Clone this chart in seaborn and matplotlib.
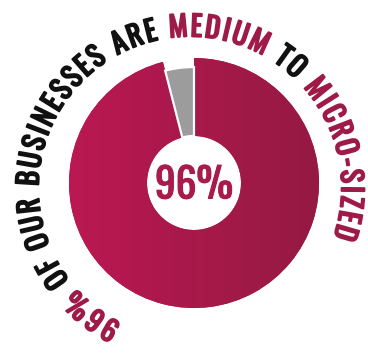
import numpy as np
import matplotlib
matplotlib.use("Agg")
import matplotlib.pyplot as plt
import matplotlib.patheffects as pe
from matplotlib import font_manager
from matplotlib.font_manager import FontProperties
from matplotlib.textpath import TextPath
import seaborn as sns

# ---- data ----
share_values = [96, 4]
share_labels = ["Medium to micro-sized", "Other"]
center_label = "96%"
phrase_words = ["96%", "OF", "OUR", "BUSINESSES", "ARE", "MEDIUM", "TO", "MICRO-SIZED"]
phrase_highlight = [True, False, False, False, False, True, False, True]

# ---- style ----
sns.set_theme(style="white")
names = {f.name for f in font_manager.fontManager.ttflist}
FONT = None
for fam, wt in [("Oswald", "bold"), ("Fjalla One", "normal"), ("Bebas Neue", "normal"),
                ("Anton", "normal"), ("Roboto Condensed", "bold"),
                ("Barlow Condensed", "bold"), ("Liberation Sans Narrow", "bold")]:
    if fam in names:
        FONT = dict(family=fam, weight=wt)
        break
if FONT is None:
    FONT = dict(family="DejaVu Sans", weight="bold", stretch="condensed")
FP = FontProperties(**FONT)

CRIMSON_L = "#BB1851"
CRIMSON_R = "#941A43"
TEXT_RED = "#9E1A47"
GRAY = "#9C9C9C"

W, H = 368, 353
fig = plt.figure(figsize=(W / 100, H / 100), dpi=100)
ax = fig.add_axes([0, 0, 1, 1])

# pie geometry (pixel-like data coordinates, y up)
cx, cy, R = 194.0, H - 183.0, 125.0
r_hole = 47.0

wedges, _ = ax.pie(share_values, labels=None, startangle=90, counterclock=False,
                   center=(cx, cy), radius=R,
                   colors=[CRIMSON_L, GRAY],
                   wedgeprops=dict(width=R - r_hole, linewidth=0))
main, other = wedges
other.set_radius(116.0)
other.set_width(116.0 - r_hole)
other.set_edgecolor("white")
other.set_linewidth(1.6)
other.set_zorder(3)

# horizontal gradient on main slice
grad = sns.blend_palette([CRIMSON_L, CRIMSON_R], 256)
img = np.array(grad)[None, :, :]
im = ax.imshow(img, extent=(cx - R, cx + R, cy - R, cy + R), aspect="auto",
               interpolation="bilinear", zorder=2)
im.set_clip_path(main)

def size_for_height(sample, px):
    h = TextPath((0, 0), sample, size=1, prop=FP).get_extents().height
    return px / h * 72 / 100

def bold(color, lw):
    return [pe.withStroke(linewidth=lw, foreground=color)]

fs_center = size_for_height("96", 34)
ax.text(cx, H - 185.5, center_label, ha="center", va="center",
        fontsize=fs_center, color="#A81B4B", zorder=5,
        path_effects=bold("#A81B4B", 0.8), **FONT)

ax.set_xlim(0, W)
ax.set_ylim(0, H)
ax.set_aspect("equal")
ax.axis("off")

# ---- curved text ----
renderer = fig.canvas.get_renderer()

def tw(s, fs):
    t = ax.text(0, 0, s, fontsize=fs, **FONT)
    w = t.get_window_extent(renderer).width
    t.remove()
    return w

chars, cols = [], []
for i, (wd, hl) in enumerate(zip(phrase_words, phrase_highlight)):
    if i > 0:
        chars.append(" ")
        cols.append("#111111")
    for c in wd:
        chars.append(c)
        cols.append(TEXT_RED if hl else "#111111")

cap_px = 23.0
fs = size_for_height("H", cap_px)
base = tw("HH", fs)
adv = np.array([tw("H" + c + "H", fs) - base for c in chars])

tcx, tcy = 190.0, H - 188.0
r_mid = 163.0
a_start, a_end = 240.5, -16.1
span = np.radians(a_start - a_end) * r_mid
pos = np.cumsum(np.r_[0, adv[:-1]]) + adv / 2.0
natural = pos[-1] - pos[0]
track = (span - natural) / (len(chars) - 1)
pos = pos + track * np.arange(len(chars))
r_base = r_mid - cap_px / 2.0

for c, col, p in zip(chars, cols, pos):
    if c == " ":
        continue
    th = a_start - np.degrees((p - pos[0]) / r_mid)
    x = tcx + r_base * np.cos(np.radians(th))
    y = tcy + r_base * np.sin(np.radians(th))
    ax.text(x, y, c, rotation=th - 90, rotation_mode="anchor",
            ha="center", va="baseline", fontsize=fs, color=col,
            path_effects=bold(col, 1.3), **FONT)

fig.savefig("out.png", dpi=100, facecolor="white")
